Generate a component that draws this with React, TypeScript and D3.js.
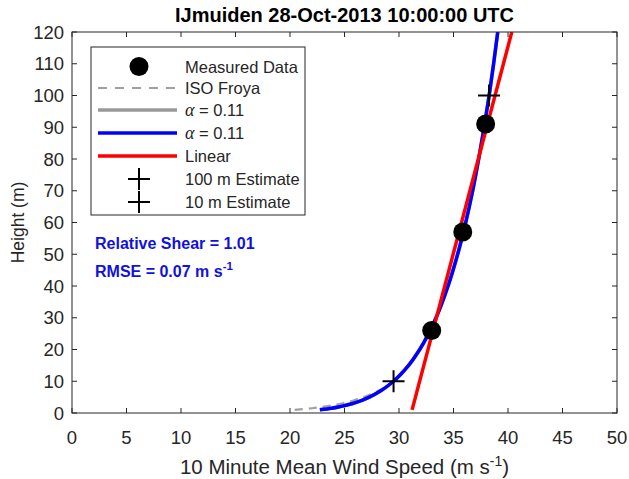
import React from "react";
import * as d3 from "d3";

// Measured data
const measuredHeights = [26, 57, 91];
const measuredSpeeds = [33.0, 35.85, 37.95];

// Power-law fit (alpha = 0.11)
const fitHeights = [1, 1.5, 2, 3, 4, 5, 7, 10, 15, 20, 30, 40, 50, 60, 70, 80, 90, 100, 110, 120];
const fitSpeeds = [22.74, 23.81, 24.59, 25.75, 26.6, 27.28, 28.33, 29.5, 30.88, 31.9, 33.4, 34.5, 35.38, 36.12, 36.76, 37.31, 37.81, 38.27, 38.68, 39.06];

// ISO Froya profile (lowest 10 m)
const froyaHeights = [1, 1.5, 2, 3, 4, 5, 7, 10];
const froyaSpeeds = [20.43, 22.03, 23.16, 24.76, 25.89, 26.77, 28.09, 29.5];

// Linear fit
const linearHeights = [1, 120];
const linearSpeeds = [31.2, 40.35];

// Estimates
const estimateHeights = [100, 10];
const estimateSpeeds = [38.26, 29.5];

const xTicks = [0, 5, 10, 15, 20, 25, 30, 35, 40, 45, 50];
const yTicks = [0, 10, 20, 30, 40, 50, 60, 70, 80, 90, 100, 110, 120];

const W = 629;
const H = 479;
const left = 72, right = 617, top = 32, bottom = 413;
const FONT = "'Liberation Sans', Arial, Helvetica, sans-serif";
const AX = "#262626";

export default function App() {
  const x = d3.scaleLinear().domain([0, 50]).range([left, right]);
  const y = d3.scaleLinear().domain([0, 120]).range([bottom, top]);
  const line = d3
    .line<[number, number]>()
    .x((d) => x(d[0]))
    .y((d) => y(d[1]))
    .curve(d3.curveMonotoneY);

  const fitPts = fitSpeeds.map((s, i) => [s, fitHeights[i]] as [number, number]);
  const froyaPts = froyaSpeeds.map((s, i) => [s, froyaHeights[i]] as [number, number]);
  const linPts = linearSpeeds.map((s, i) => [s, linearHeights[i]] as [number, number]);

  const legendRows = [66.5, 88, 110, 133, 156, 179, 202];
  const lx0 = 98, lx1 = 177, ltx = 185, lmx = 139;

  const cross = (cx: number, cy: number, key: string) => (
    <g key={key} stroke="#000" strokeWidth={2}>
      <line x1={cx - 11} x2={cx + 11} y1={cy} y2={cy} />
      <line x1={cx} x2={cx} y1={cy - 11} y2={cy + 11} />
    </g>
  );

  return (
    <svg width={W} height={H} style={{ position: "absolute", left: 0, top: 0, background: "#fff" }} fontFamily={FONT}>
      <rect x={0} y={0} width={W} height={H} fill="#fff" />
      <defs>
        <clipPath id="plotclip">
          <rect x={left} y={top} width={right - left} height={bottom - top} />
        </clipPath>
      </defs>

      {/* Title */}
      <text x={(left + right) / 2} y={22} textAnchor="middle" fontSize={20} fontWeight="bold" fill="#000">
        IJmuiden 28-Oct-2013 10:00:00 UTC
      </text>

      {/* Data */}
      <g clipPath="url(#plotclip)">
        <path d={line(froyaPts) || ""} fill="none" stroke="#a0a0a0" strokeWidth={2.2} strokeDasharray="8,6" />
        <path d={line(fitPts) || ""} fill="none" stroke="#999999" strokeWidth={3.5} />
        <path d={line(fitPts) || ""} fill="none" stroke="#0000ff" strokeWidth={3.5} />
        <path d={line(linPts) || ""} fill="none" stroke="#ff0000" strokeWidth={3.5} />
        {measuredSpeeds.map((s, i) => (
          <circle key={"m" + i} cx={x(s)} cy={y(measuredHeights[i])} r={9.5} fill="#000" />
        ))}
        {estimateSpeeds.map((s, i) => cross(x(s), y(estimateHeights[i]), "e" + i))}
      </g>

      {/* Axes box */}
      <rect x={left} y={top} width={right - left} height={bottom - top} fill="none" stroke={AX} strokeWidth={1} />
      {xTicks.map((t) => (
        <g key={"xt" + t} stroke={AX}>
          <line x1={x(t)} x2={x(t)} y1={bottom} y2={bottom - 5} />
          <line x1={x(t)} x2={x(t)} y1={top} y2={top + 5} />
        </g>
      ))}
      {yTicks.map((t) => (
        <g key={"yt" + t} stroke={AX}>
          <line x1={left} x2={left + 5} y1={y(t)} y2={y(t)} />
          <line x1={right} x2={right - 5} y1={y(t)} y2={y(t)} />
        </g>
      ))}
      {xTicks.map((t) => (
        <text key={"xl" + t} x={x(t)} y={444} textAnchor="middle" fontSize={18.5} fill={AX}>
          {t}
        </text>
      ))}
      {yTicks.map((t) => (
        <text key={"yl" + t} x={left - 8} y={y(t) + 6.5} textAnchor="end" fontSize={18.5} fill={AX}>
          {t}
        </text>
      ))}

      {/* Axis labels */}
      <text x={(left + right) / 2} y={474} textAnchor="middle" fontSize={20.5} fill={AX}>
        10 Minute Mean Wind Speed (m s
        <tspan dy={-8} fontSize={14}>-1</tspan>
        <tspan dy={8}>)</tspan>
      </text>
      <text transform={`translate(24, ${(top + bottom) / 2}) rotate(-90)`} textAnchor="middle" fontSize={17.5} fill={AX}>
        Height (m)
      </text>

      {/* Legend */}
      <rect x={91} y={47} width={214} height={168} fill="#fff" stroke={AX} strokeWidth={1} />
      <circle cx={lmx} cy={legendRows[0]} r={9.5} fill="#000" />
      <line x1={lx0} x2={lx1} y1={legendRows[1]} y2={legendRows[1]} stroke="#a0a0a0" strokeWidth={2.2} strokeDasharray="9,8" />
      <line x1={lx0} x2={lx1} y1={legendRows[2]} y2={legendRows[2]} stroke="#999999" strokeWidth={3.5} />
      <line x1={lx0} x2={lx1} y1={legendRows[3]} y2={legendRows[3]} stroke="#0000ff" strokeWidth={3.5} />
      <line x1={lx0} x2={lx1} y1={legendRows[4]} y2={legendRows[4]} stroke="#ff0000" strokeWidth={3.5} />
      {cross(lmx, legendRows[5], "l5")}
      {cross(lmx, legendRows[6], "l6")}
      {[
        "Measured Data",
        "ISO Froya",
        null,
        null,
        "Linear",
        "100 m Estimate",
        "10 m Estimate",
      ].map((lab, i) =>
        lab ? (
          <text key={"lt" + i} x={ltx} y={legendRows[i] + 6} fontSize={16.5} fill={AX}>
            {lab}
          </text>
        ) : (
          <text key={"lt" + i} x={ltx} y={legendRows[i] + 6} fontSize={16.5} fill={AX}>
            <tspan fontFamily="'Liberation Serif', 'DejaVu Serif', serif" fontStyle="italic" fontSize={18}>α</tspan>
            <tspan> = 0.11</tspan>
          </text>
        )
      )}

      {/* Annotations */}
      <text x={95} y={249} fontSize={16} fontWeight="bold" fill="#1010e0">
        Relative Shear = 1.01
      </text>
      <text x={95} y={277} fontSize={16} fontWeight="bold" fill="#1010e0">
        RMSE = 0.07 m s
        <tspan dy={-7} fontSize={11.5}>-1</tspan>
      </text>
    </svg>
  );
}
